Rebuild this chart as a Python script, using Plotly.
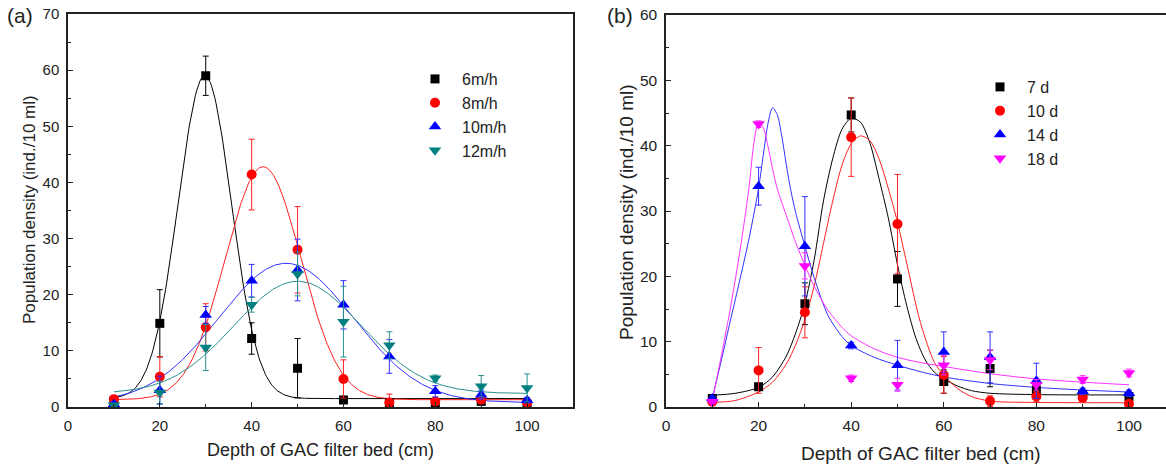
import numpy as np
import plotly.graph_objects as go

# ---------------- data: panel (a) ----------------
depth = [10, 20, 30, 40, 50, 60, 70, 80, 90, 100]

a_names = ["6m/h", "8m/h", "10m/h", "12m/h"]
a_6 = [1.0, 14.9, 59.0, 12.2, 6.9, 1.25, 0.8, 0.8, 1.0, 0.5]
a_6_err = [0.5, 6.0, 3.5, 2.8, 5.3, 0.5, 0.4, 0.4, 0.4, 0.3]
a_8 = [1.4, 5.4, 14.2, 41.4, 28.0, 5.0, 0.8, 1.0, 1.3, 0.8]
a_8_err = [0.5, 3.6, 4.2, 6.3, 7.7, 3.4, 1.5, 0.5, 0.5, 0.4]
a_10 = [0.5, 3.0, 16.4, 22.5, 24.4, 18.2, 9.0, 2.8, 2.2, 1.2]
a_10_err = [0.5, 2.5, 1.5, 2.9, 5.5, 4.3, 3.0, 1.0, 0.8, 0.5]
a_12 = [0.3, 2.6, 10.6, 18.2, 23.7, 15.2, 11.0, 5.1, 3.7, 3.4]
a_12_err = [0.3, 2.0, 4.1, 1.3, 3.9, 6.3, 2.4, 0.6, 1.9, 2.5]

# Gaussian fit parameters: y0, A, xc, w
a_fit = {
    "6m/h": [1.5, 57.5, 29.8, 5.8],
    "8m/h": [1.3, 41.5, 42.5, 8.25],
    "10m/h": [0.8, 24.8, 47.5, 14.7],
    "12m/h": [2.4, 20.0, 50.0, 13.8],
}

# ---------------- data: panel (b) ----------------
b_names = ["7 d", "10 d", "14 d", "18 d"]
b_7 = [1.3, 3.1, 15.8, 44.7, 19.6, 3.9, 5.9, 2.6, 1.9, 1.6]
b_7_err = [0.4, 0.5, 3.2, 2.6, 4.2, 1.8, 2.8, 1.0, 0.5, 0.5]
b_10 = [0.8, 5.6, 14.5, 41.3, 28.0, 4.9, 0.9, 1.6, 1.4, 0.5]
b_10_err = [0.3, 3.5, 3.9, 6.0, 7.6, 2.8, 0.8, 0.8, 0.5, 0.4]
b_14 = [1.3, 33.8, 24.6, 9.4, 6.4, 8.4, 7.6, 4.0, 2.4, 2.1]
b_14_err = [0.4, 2.9, 7.6, 0.5, 3.8, 3.1, 3.9, 2.7, 0.5, 0.5]
b_18 = [0.8, 43.3, 21.6, 4.4, 3.4, 6.4, 7.2, 3.4, 4.2, 5.2]
b_18_err = [0.3, 0.5, 2.0, 0.5, 1.0, 1.5, 1.5, 0.8, 0.6, 0.6]

# fitted curves
b_7_cx = [10, 15, 20, 23, 26, 28, 30, 32, 34, 36, 38, 40, 42, 44, 46, 48, 50, 52, 54, 56, 58, 60, 63, 66, 70, 80, 90, 100]
b_7_cy = [1.8, 2.1, 3.0, 4.6, 7.8, 11.3, 15.8, 22.5, 31.5, 38.0, 42.5, 44.2, 43.6, 40.5, 35.0, 29.0, 21.8, 15.5, 10.5, 7.2, 5.3, 4.3, 3.2, 2.5, 2.1, 1.9, 1.85, 1.85]
b_10_cx = [10, 15, 20, 23, 26, 28, 30, 32, 34, 36, 38, 40, 42, 44, 46, 48, 50, 52, 55, 58, 60, 63, 66, 70, 80, 100]
b_10_cy = [0.7, 1.0, 2.3, 3.8, 6.6, 9.5, 13.4, 18.5, 25.0, 31.5, 37.0, 40.3, 41.5, 40.8, 38.0, 33.5, 28.3, 22.0, 12.8, 6.8, 4.9, 2.8, 1.6, 0.9, 0.7, 0.65]
b_14_cx = [10, 12, 14, 16, 18, 20, 21, 22, 23, 24, 25, 26, 27, 28, 30, 32, 35, 38, 40, 45, 50, 55, 60, 70, 80, 90, 100]
b_14_cy = [1.3, 7.3, 13.5, 19.6, 26.0, 33.5, 38.5, 43.3, 45.8, 44.8, 41.5, 37.0, 33.0, 29.8, 24.6, 19.8, 14.0, 10.8, 9.4, 7.6, 6.4, 5.4, 4.6, 3.6, 3.0, 2.6, 2.3]
b_18_cx = [10, 12, 14, 16, 17, 18, 19, 20, 21, 22, 23, 24, 25, 26, 28, 30, 32, 35, 38, 40, 45, 50, 55, 60, 70, 80, 90, 100]
b_18_cy = [1.0, 8.0, 15.5, 24.0, 28.8, 34.0, 40.5, 43.6, 42.8, 40.0, 36.5, 33.5, 31.3, 29.3, 25.2, 21.7, 18.5, 14.8, 12.2, 10.9, 8.9, 7.6, 6.8, 6.2, 5.1, 4.3, 3.8, 3.4]

# ---------------- styling ----------------
FONT = "Liberation Sans, Arial, sans-serif"
TXT = "#222222"
a_colors = ["#000000", "#ff0000", "#0000ff", "#008080"]
a_line_colors = ["#000000", "#ff2020", "#3030ff", "#2a9090"]
b_colors = ["#000000", "#ff0000", "#0000ff", "#ff00ff"]
b_line_colors = ["#000000", "#ff2020", "#3030ff", "#ff30ff"]
symbols = ["square", "circle", "triangle-up", "triangle-down"]
sizes = [9, 10, 11, 11]

fig = go.Figure()

xfit = np.linspace(10, 100, 361)
a_series = [a_6, a_8, a_10, a_12]
a_errs = [a_6_err, a_8_err, a_10_err, a_12_err]
for i, name in enumerate(a_names):
    y0, A, xc, w = a_fit[name]
    yfit = y0 + A * np.exp(-((xfit - xc) ** 2) / (2 * w ** 2))
    fig.add_trace(go.Scatter(x=xfit, y=yfit, mode="lines", xaxis="x", yaxis="y",
                             line=dict(color=a_line_colors[i], width=1), showlegend=False,
                             hoverinfo="skip"))
for i, name in enumerate(a_names):
    fig.add_trace(go.Scatter(x=depth, y=a_series[i], mode="markers", name=name, xaxis="x", yaxis="y",
                             marker=dict(symbol=symbols[i], size=sizes[i], color=a_colors[i]),
                             error_y=dict(type="data", array=a_errs[i], color=a_line_colors[i],
                                          thickness=1, width=3),
                             legend="legend"))

b_series = [b_7, b_10, b_14, b_18]
b_errs = [b_7_err, b_10_err, b_14_err, b_18_err]
b_curves = [(b_7_cx, b_7_cy), (b_10_cx, b_10_cy), (b_14_cx, b_14_cy), (b_18_cx, b_18_cy)]
for i, name in enumerate(b_names):
    cx, cy = b_curves[i]
    fig.add_trace(go.Scatter(x=cx, y=cy, mode="lines", xaxis="x2", yaxis="y2",
                             line=dict(color=b_line_colors[i], width=1, shape="spline", smoothing=0.8),
                             showlegend=False, hoverinfo="skip"))
for i, name in enumerate(b_names):
    fig.add_trace(go.Scatter(x=depth, y=b_series[i], mode="markers", name=name, xaxis="x2", yaxis="y2",
                             marker=dict(symbol=symbols[i], size=sizes[i], color=b_colors[i]),
                             error_y=dict(type="data", array=b_errs[i], color=b_line_colors[i],
                                          thickness=1, width=3),
                             legend="legend2"))

W, H = 1166, 468


def axis_style(fs):
    return dict(showline=True, linecolor=TXT, linewidth=1.5, ticks="inside",
                ticklen=5, tickwidth=1.2, tickcolor=TXT, showgrid=False, zeroline=False,
                automargin=False, ticklabelstandoff=4,
                tickfont=dict(family=FONT, size=fs, color=TXT))


def minor(d):
    return dict(dtick=d, tick0=0, ticks="inside", ticklen=3, tickcolor=TXT, showgrid=False)


fig.update_layout(
    template="none",
    width=W, height=H,
    margin=dict(l=0, r=0, t=0, b=0, autoexpand=False),
    paper_bgcolor="white", plot_bgcolor="white",
    font=dict(family=FONT, color=TXT),
    xaxis=dict(domain=[68 / W, 573 / W], range=[0, 110], tickvals=[0, 20, 40, 60, 80, 100],
               mirror=True, anchor="y", minor=minor(10), **axis_style(15)),
    yaxis=dict(domain=[1 - 407 / H, 1 - 14 / H], range=[0, 70], dtick=10, mirror=True, anchor="x",
               minor=minor(5), **axis_style(15)),
    xaxis2=dict(domain=[666 / W, 1.0], range=[0, 108], tickvals=[0, 20, 40, 60, 80, 100],
                mirror=True, anchor="y2", minor=minor(10), **axis_style(15.5)),
    yaxis2=dict(domain=[1 - 407 / H, 1 - 15 / H], range=[0, 60], dtick=10, anchor="x2",
                minor=minor(5), **axis_style(15.5)),
    legend=dict(x=408 / W, y=1 - 62 / H, xanchor="left", yanchor="top", bgcolor="rgba(0,0,0,0)",
                font=dict(family=FONT, size=16, color=TXT), itemwidth=44, tracegroupgap=0),
    legend2=dict(x=973 / W, y=1 - 70 / H, xanchor="left", yanchor="top", bgcolor="rgba(0,0,0,0)",
                 font=dict(family=FONT, size=16, color=TXT), itemwidth=44, tracegroupgap=0),
    showlegend=True,
)


def label(x, y, text, size, angle=0):
    fig.add_annotation(x=x / W, y=1 - y / H, xref="paper", yref="paper", text=text,
                       showarrow=False, xanchor="center", yanchor="middle", textangle=angle,
                       font=dict(family=FONT, size=size, color=TXT))


label(20, 16, "(a)", 21)
label(620, 16, "(b)", 21)
label(30, 210, "Population density (ind./10 ml)", 17, -90)
label(627, 212, "Population density (ind./10 ml)", 19, -90)
label(320, 450, "Depth of GAC filter bed (cm)", 18)
label(921, 453, "Depth of GAC filter bed (cm)", 19)

fig.write_html("out.html")
